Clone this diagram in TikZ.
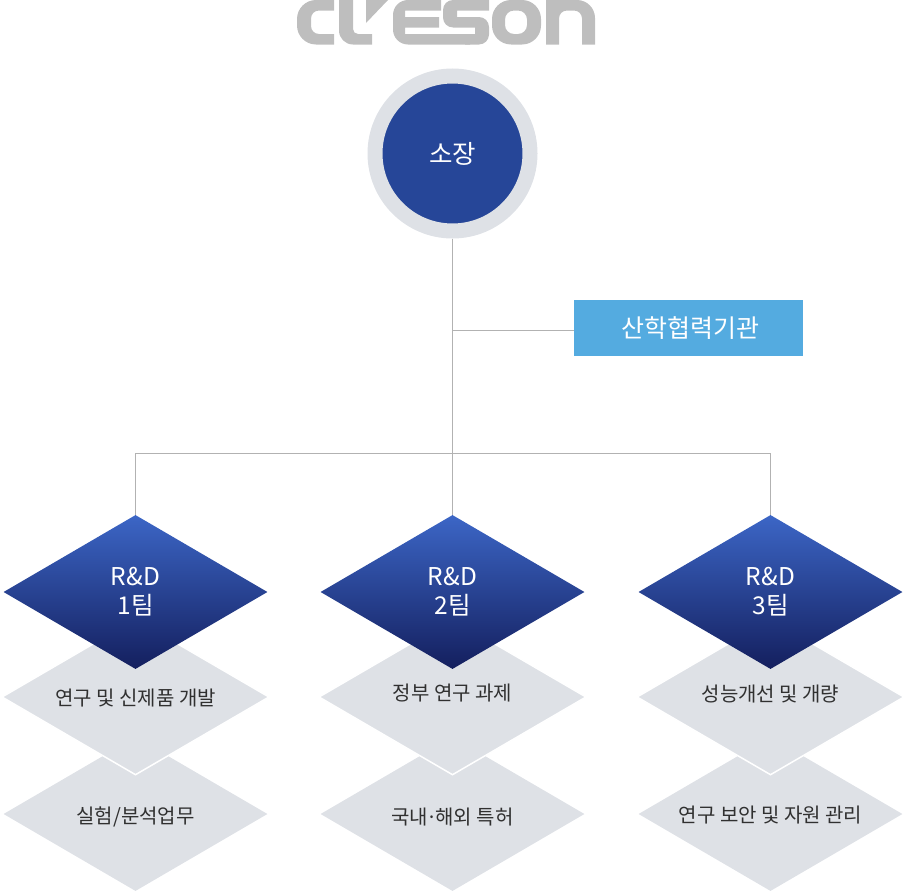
\documentclass[tikz,border=0pt]{standalone}
\usepackage{fontspec}
\setmainfont{Noto Sans CJK KR}
\usetikzlibrary{shapes.geometric,calc}
\definecolor{logo}{HTML}{BEBEBE}
\definecolor{ring}{HTML}{DEE1E6}
\definecolor{chief}{HTML}{264698}
\definecolor{sky}{HTML}{54ABE0}
\definecolor{wire}{HTML}{B2B2B2}
\definecolor{ink}{HTML}{303030}
\definecolor{deeptop}{HTML}{3C66C6}
\definecolor{deepbot}{HTML}{141F5E}
\newcommand{\nudge}[2]{\raisebox{#1pt}[0pt][0pt]{#2}}
\tikzset{
  teamnode/.style={diamond,aspect=1.714,minimum width=264,minimum height=154,inner sep=0pt,
    top color=deeptop,bottom color=deepbot,text=white,align=center,font=\fontsize{24.5}{29}\selectfont},
  worknode/.style={diamond,aspect=1.714,minimum width=264,minimum height=154,inner sep=0pt,
    fill=ring,text=ink,font=\fontsize{20}{24}\selectfont},
  workover/.style={worknode,minimum width=267.5,minimum height=156,draw=white,line width=1.5pt}
}
\begin{document}
\begin{tikzpicture}[x=1pt,y=-1pt]
\useasboundingbox (0,0) rectangle (906,894);
\fill[logo] (334,0)[rounded corners=19]--(297,0)--(297,44.5)[sharp corners]--(334,44.5)--(334,34)[rounded corners=8]--(311,34)--(311,10.5)[sharp corners]--(334,10.5)--cycle;
\fill[logo] (339,0)[rounded corners=14]--(339,44.5)[sharp corners]--(372,44.5)--(372,34)[rounded corners=5]--(353,34)[sharp corners]--(353,0)--cycle;
\fill[logo] (366,0)--(388,0)--(366,23)--cycle;
\fill[logo] (441,0)[rounded corners=15]--(393,0)--(393,44.5)[sharp corners]--(470,44.5)--(470,34)--(405,34)--(405,27.5)--(439,27.5)--(439,17)--(405,17)--(405,10.5)--(441,10.5)--cycle;
\fill[logo] (489,0)[rounded corners=10]--(443,0)--(443,27.5)[sharp corners]--(475,27.5)--(475,34)--(465,34)--(465,44.5)[rounded corners=10]--(489,44.5)--(489,17)[sharp corners]--(457,17)--(457,10.5)--(489,10.5)--cycle;
\fill[logo,even odd rule][rounded corners=19] (492,0) rectangle (541,44.5)[rounded corners=9] (505,10.5) rectangle (527,34);
\fill[logo] (546,44.5)--(546,0)[rounded corners=18]--(595,0)[sharp corners]--(595,44.5)--(582,44.5)[rounded corners=8]--(582,10.5)--(559,10.5)[sharp corners]--(559,44.5)--cycle;

\node[circle,minimum size=155,inner sep=0pt,fill=chief,draw=ring,line width=15pt,text=white,font=\fontsize{25.5}{28}\selectfont] (chief) at(452.5,153.5){소장};
\node[rectangle,minimum width=229,minimum height=56,inner sep=0pt,fill=sky,text=white,font=\fontsize{25}{28}\selectfont] (partner) at(688.5,328){\kern4pt산학협력기관};

\node[worknode] (work1b) at(135.5,814){\nudge{-9}{실험/분석업무}};
\node[workover] (work1a) at(135.5,697){\nudge{-8}{연구 및 신제품 개발}};
\node[teamnode] (team1) at(135.5,592){R\&D\\1팀};
\node[worknode] (work2b) at(452.5,814){\nudge{-10}{국내\kern-2pt·\kern-2pt해외 특허}};
\node[workover] (work2a) at(452.5,697){\nudge{-3}{정부 연구 과제}};
\node[teamnode] (team2) at(452.5,592){R\&D\\2팀};
\node[worknode] (work3b) at(770.5,814){\nudge{-8}{연구 보안 및 자원 관리}};
\node[workover] (work3a) at(770.5,697){\nudge{-4}{성능개선 및 개량}};
\node[teamnode] (team3) at(770.5,592){R\&D\\3팀};

\coordinate (tap) at(452.5,330.5);
\coordinate (bus) at(452.5,453.5);
\draw[wire] (chief)--(team2);
\draw[wire] (tap)--(tap-|partner.west);
\draw[wire] (team1.north)|-(bus)-|(team3.north);
\end{tikzpicture}
\end{document}
